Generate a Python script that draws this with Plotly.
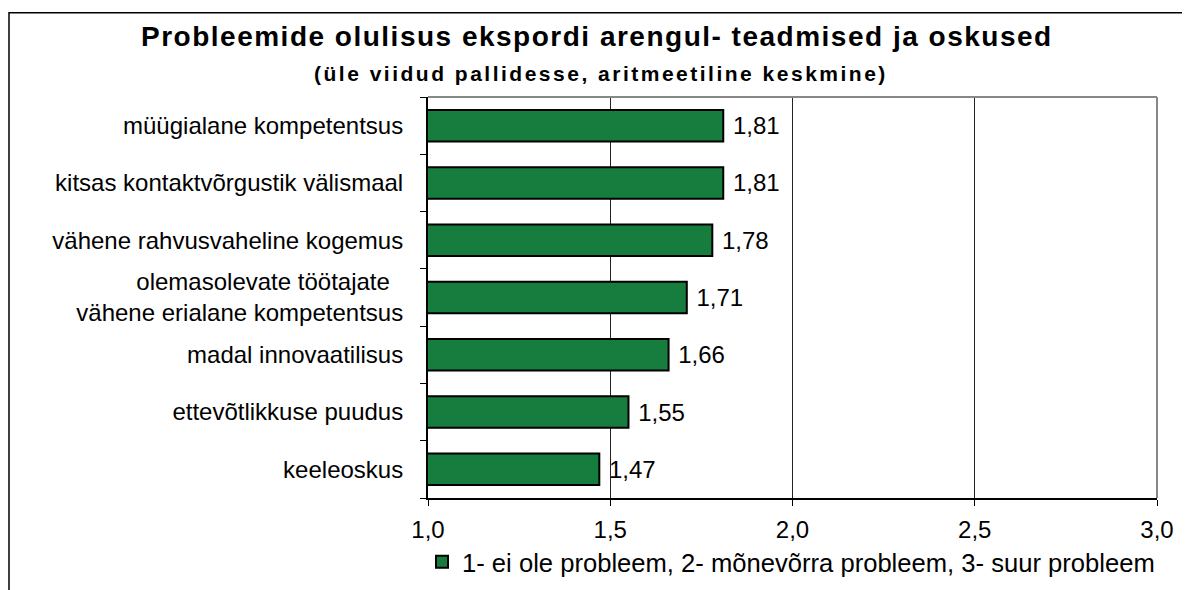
import plotly.graph_objects as go

categories = [
    "müügialane kompetentsus",
    "kitsas kontaktvõrgustik välismaal",
    "vähene rahvusvaheline kogemus",
    "olemasolevate töötajate<br>vähene erialane kompetentsus",
    "madal innovaatilisus",
    "ettevõtlikkuse puudus",
    "keeleoskus",
]
values = [1.81, 1.81, 1.78, 1.71, 1.66, 1.55, 1.47]
series_name = "1- ei ole probleem, 2- mõnevõrra probleem, 3- suur probleem"
title_text = "Probleemide olulisus ekspordi arengul- teadmised ja oskused"
subtitle_text = "(üle viidud pallidesse, aritmeetiline keskmine)"
x_ticks = [1.0, 1.5, 2.0, 2.5, 3.0]

FONT = "Liberation Sans, Arial, sans-serif"
BAR = "#177D3E"
NB = "\u00a0"

W, H = 1190, 590
OFF = 8  # page offset of the figure inside the browser window
# plot area in screenshot pixels
PX0, PX1, PY0, PY1 = 428, 1157, 97, 502
L = PX0 - OFF
T = PY0 - OFF
pw, ph = PX1 - PX0, PY1 - PY0
R = W - L - pw
B = H - T - ph

def px_x(p):
    return (p - PX0) / pw

def px_y(p):
    return (PY1 - p) / ph

# display text for the category ticks (first line of the two-line label nudged left)
tick_text = [c.replace("<br>", NB * 2 + "<br>") for c in categories]

fig = go.Figure()
fig.add_trace(go.Bar(
    y=categories, x=values, orientation="h", base=0,
    marker=dict(color=BAR, line=dict(color="black", width=2)),
    width=0.55,
    text=[NB + f"{v:.2f}".replace(".", ",") for v in values],
    textposition="outside", cliponaxis=False,
    textfont=dict(family=FONT, size=24, color="black"),
    name=series_name, showlegend=True,
))

fig.update_layout(
    width=W, height=H,
    margin=dict(l=L, r=R, t=T, b=B, pad=0),
    paper_bgcolor="white", plot_bgcolor="white",
    font=dict(family=FONT, size=24, color="black"),
    showlegend=True,
    legend=dict(x=px_x(422), y=px_y(543), xanchor="left", yanchor="top",
                font=dict(family=FONT, size=25.6, color="black"),
                bgcolor="rgba(0,0,0,0)", itemwidth=30),
    xaxis=dict(range=[1.0, 3.0], tickvals=x_ticks,
               ticktext=[f"{v:.1f}".replace(".", ",") for v in x_ticks],
               showgrid=True, gridcolor="#222", gridwidth=1,
               showline=True, linecolor="black", linewidth=2,
               ticks="outside", ticklen=6, tickcolor="black",
               ticklabelstandoff=3,
               zeroline=False, fixedrange=True,
               tickfont=dict(family=FONT, size=24)),
    yaxis=dict(categoryorder="array", categoryarray=categories,
               tickmode="array", tickvals=categories, ticktext=tick_text,
               autorange="reversed",
               showline=True, linecolor="black", linewidth=2,
               ticks="outside", ticklen=6, tickcolor="black",
               tickson="boundaries", ticklabelstandoff=18,
               showgrid=False, fixedrange=True,
               tickfont=dict(family=FONT, size=24)),
    shapes=[
        # plot border top & right (gray)
        dict(type="line", xref="paper", yref="paper", x0=0, x1=1, y0=1, y1=1,
             line=dict(color="#888", width=2)),
        dict(type="line", xref="paper", yref="paper", x0=1, x1=1, y0=0, y1=1,
             line=dict(color="#888", width=2)),
        # outer chart border
        dict(type="rect", xref="paper", yref="paper",
             x0=px_x(9), x1=px_x(1220), y0=px_y(12), y1=px_y(620),
             line=dict(color="black", width=1.5), layer="below"),
    ],
    annotations=[
        dict(text='<b><span style="letter-spacing:1.5px">' + title_text + "</span></b>",
             xref="paper", yref="paper",
             x=px_x(597), y=px_y(36), xanchor="center", yanchor="middle",
             showarrow=False, font=dict(family=FONT, size=28, color="black")),
        dict(text='<b><span style="letter-spacing:2.5px">' + subtitle_text + "</span></b>",
             xref="paper", yref="paper",
             x=px_x(601), y=px_y(73), xanchor="center", yanchor="middle",
             showarrow=False, font=dict(family=FONT, size=21, color="black")),
    ],
)

fig.write_html("out.html")
